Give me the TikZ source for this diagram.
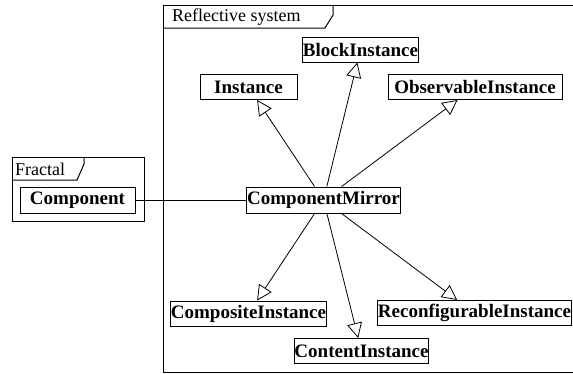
\documentclass[tikz,border=0pt]{standalone}
\usepackage{fontspec}
\setmainfont{Liberation Serif}
\usetikzlibrary{arrows.meta}
\begin{document}
\begin{tikzpicture}[x=1pt,y=-1pt,
  box/.style={draw,line width=1pt,inner sep=0pt,minimum height=25pt,font=\fontsize{19}{21}\selectfont\bfseries},
  frame/.style={draw,line width=1pt},
  lbl/.style={font=\fontsize{18}{20}\selectfont,inner sep=0pt,anchor=west},
  gen/.style={line width=0.8pt,-{Triangle[open,length=15pt,width=15pt]}},
  link/.style={line width=0.8pt}]
\useasboundingbox (0,0) rectangle (573,373);
% frames
\draw[frame] (12,157) rectangle (144,221);
\draw[frame] (12,180) -- (77,180) -- (84,164) -- (84,157);
\node[lbl] (fractal) at (15,169) {Fractal};
\draw[frame] (578,5) -- (163.5,5) -- (163.5,372) -- (578,372);
\draw[frame] (163.5,28) -- (325,28) -- (333,15) -- (333,5);
\node[lbl] (refl) at (172,17) {Reflective system};
% nodes
\node[box,minimum width=115pt,minimum height=26pt] (comp) at (77.5,200) {Component};
\node[box,minimum width=154pt,minimum height=26pt] (cm) at (323.5,200) {ComponentMirror};
\node[box,minimum width=115pt] (block) at (360.5,49.5) {BlockInstance};
\node[box,minimum width=97pt] (inst) at (248.5,87) {Instance};
\node[box,minimum width=174pt] (obs) at (475,87) {ObservableInstance};
\node[box,minimum width=153pt] (compo) at (248.5,313.5) {CompositeInstance};
\node[box,minimum width=192pt] (reconf) at (474.5,313) {ReconfigurableInstance};
\node[box,minimum width=133pt] (content) at (361.5,351) {ContentInstance};
% connectors
\draw[link] (comp) -- (cm);
\draw[gen] (cm) -- (block);
\draw[gen] (cm) -- (inst);
\draw[gen] (cm) -- (obs);
\draw[gen] (cm) -- (compo);
\draw[gen] (cm) -- (reconf);
\draw[gen] (cm) -- (content);
\end{tikzpicture}
\end{document}
